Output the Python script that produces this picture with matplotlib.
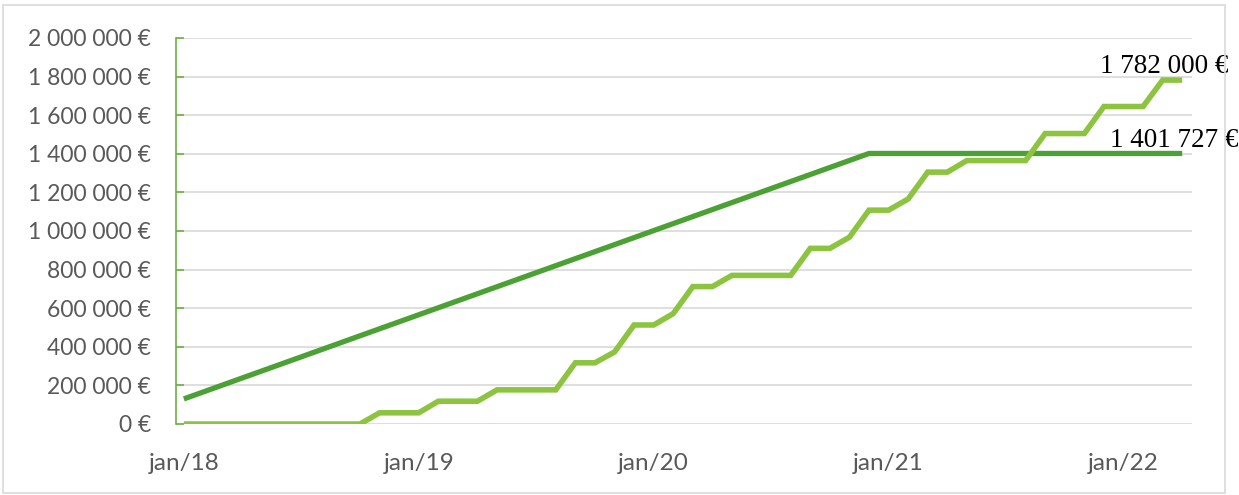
import matplotlib.pyplot as plt
from matplotlib.patches import Rectangle
from matplotlib.ticker import FuncFormatter

# monthly categories, jan/18 .. apr/22 (index 0 .. 51)
month_idx = list(range(52))
tick_pos = [0, 12, 24, 36, 48]
tick_labels = ["jan/18", "jan/19", "jan/20", "jan/21", "jan/22"]

# planned (straight ramp then flat) - breakpoints only
plan_x = [0, 35, 51]
plan_y = [130000, 1401727, 1401727]

# realised, one value per month
real_y = [0, 0, 0, 0, 0, 0, 0, 0, 0, 0,
          58000, 58000, 58000, 118000, 118000, 118000, 177000, 177000, 177000, 177000,
          317000, 317000, 373000, 513000, 513000, 572000, 712000, 712000, 770000, 770000,
          770000, 770000, 910000, 910000, 968000, 1108000, 1108000, 1166000, 1305000, 1305000,
          1365000, 1365000, 1365000, 1365000, 1505000, 1505000, 1505000, 1645000, 1645000, 1645000,
          1782000, 1782000]

dark_green = "#4CA135"
light_green = "#8CC43F"
axis_green = "#70AD47"
grid_gray = "#D9D9D9"
text_gray = "#595959"

fig = plt.figure(figsize=(12.39, 4.95), dpi=100)
ax = fig.add_axes([176 / 1239, 1 - 424 / 495, (1192 - 176) / 1239, (424 - 38) / 495])

ax.plot(plan_x, plan_y, color=dark_green, lw=3.8, solid_capstyle="butt", zorder=3)
ax.plot(month_idx, real_y, color=light_green, lw=4.0, solid_capstyle="butt",
        solid_joinstyle="miter", zorder=4)

ax.set_xlim(-0.4, 51.5)
ax.set_ylim(0, 2000000)
ax.set_yticks(range(0, 2000001, 200000))


def euro(v, _):
    return f"{int(v):,} €".replace(",", " ")


ax.yaxis.set_major_formatter(FuncFormatter(euro))
ax.set_xticks(tick_pos)
ax.set_xticklabels(tick_labels)

ax.grid(axis="y", color=grid_gray, lw=1.2, zorder=0)
ax.set_axisbelow(True)
for s in ["top", "right", "bottom"]:
    ax.spines[s].set_visible(False)
ax.spines["left"].set_color(axis_green)
ax.spines["left"].set_linewidth(1.2)
ax.tick_params(axis="y", direction="in", length=6, color=axis_green, width=1.2,
               labelsize=16.5, labelcolor=text_gray, pad=18)
ax.tick_params(axis="x", length=0, labelsize=17.5, labelcolor=text_gray, pad=21)
for lbl in ax.get_xticklabels() + ax.get_yticklabels():
    lbl.set_family(["Lato", "DejaVu Sans"])

ax.annotate("1 782 000 €", (50.1, real_y[-1]), xytext=(0, 5), textcoords="offset points",
            ha="center", va="baseline", fontsize=19.5, family="Liberation Serif",
            color="black", zorder=5, annotation_clip=False)
ax.annotate("1 401 727 €", (50.6, plan_y[-1]), xytext=(0, 4.3), textcoords="offset points",
            ha="center", va="baseline", fontsize=19.5, family="Liberation Serif",
            color="black", zorder=5, annotation_clip=False)

fig.patches.append(Rectangle((3 / 1239, 1 - 493 / 495), (1225 - 3) / 1239, (493 - 5) / 495,
                             transform=fig.transFigure, fill=False, ec=grid_gray, lw=1.2))

fig.savefig("out.png", dpi=100)
